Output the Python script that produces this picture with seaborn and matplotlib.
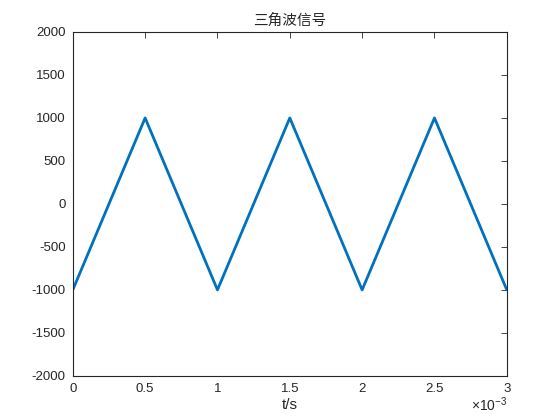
import matplotlib
matplotlib.use("Agg")
import matplotlib.pyplot as plt
import matplotlib.ticker as mticker
import seaborn as sns
import pandas as pd

t_values = [0.0, 0.0005, 0.0010, 0.0015, 0.0020, 0.0025, 0.0030]
amplitude = [-1000, 1000, -1000, 1000, -1000, 1000, -1000]
x_ticks = [0, 0.0005, 0.001, 0.0015, 0.002, 0.0025, 0.003]
y_ticks = [-2000, -1500, -1000, -500, 0, 500, 1000, 1500, 2000]
title_text = "三角波信号"
xlabel_text = "t/s"
x_scale_exp = -3

sns.set_theme(style="white")
plt.rcParams['font.family'] = ['Liberation Sans', 'Noto Sans CJK SC', 'DejaVu Sans']
plt.rcParams['axes.unicode_minus'] = False
plt.rcParams['mathtext.fontset'] = 'custom'
plt.rcParams['mathtext.rm'] = 'Liberation Sans'

df = pd.DataFrame({"t": t_values, "y": amplitude})

fig = plt.figure(figsize=(5.6, 4.2), dpi=100)
ax = fig.add_axes([0.13, 0.105, 0.775, 0.819])
sns.lineplot(data=df, x="t", y="y", ax=ax, color="#0072BD", linewidth=2.0)

ax.set_xlim(0, 0.003)
ax.set_ylim(-2000, 2000)
ax.set_xticks(x_ticks)
ax.set_yticks(y_ticks)
scale = 10.0 ** (-x_scale_exp)
ax.xaxis.set_major_formatter(mticker.FuncFormatter(lambda v, p: "%g" % round(v * scale, 6)))
ax.text(1.0, -0.103, r"$\times\mathrm{10}^{\mathrm{%d}}$" % x_scale_exp, transform=ax.transAxes,
        ha="right", va="baseline", fontsize=10, color="#262626")

for s in ax.spines.values():
    s.set_color("#262626")
    s.set_linewidth(0.8)
ax.tick_params(direction="in", length=4, width=0.6, top=True, right=True,
               labelsize=9.5, colors="#262626", pad=5)
ax.set_title(title_text, fontsize=10.5, family=['Noto Sans CJK SC', 'DejaVu Sans'],
             color="#262626", pad=5)
ax.set_xlabel(xlabel_text, fontsize=11, color="#262626", labelpad=2)
ax.set_ylabel("")
ax.grid(False)

fig.savefig("out.png", dpi=100, facecolor="white")
